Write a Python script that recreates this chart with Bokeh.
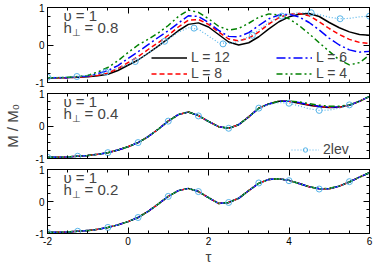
from bokeh.plotting import figure
from bokeh.layouts import column
from bokeh.models import (Range1d, SingleIntervalTicker, LinearAxis, Label,
                          Legend, LegendItem, CustomLabelingPolicy)
from bokeh.embed import file_html
from bokeh.resources import INLINE

# ---------------- data ----------------
tau = [-2.0, -1.75, -1.5, -1.25, -1.0, -0.75, -0.5, -0.25, 0.0, 0.25, 0.5,
       0.75, 1.0, 1.25, 1.5, 1.75, 2.0, 2.25, 2.5, 2.75, 3.0, 3.25, 3.5,
       3.75, 4.0, 4.25, 4.5, 4.75, 5.0, 5.25, 5.5, 5.75, 6.0]

# panel h_perp = 0.8
h08_L12 = [-0.87, -0.87, -0.87, -0.86, -0.85, -0.82, -0.78, -0.68, -0.54, -0.40, -0.22,
           -0.03, 0.17, 0.38, 0.55, 0.59, 0.48, 0.28, 0.08, 0.00, 0.06, 0.22, 0.43,
           0.62, 0.75, 0.82, 0.84, 0.76, 0.60, 0.46, 0.35, 0.28, 0.26]
h08_L8 = [-0.87, -0.87, -0.87, -0.86, -0.84, -0.81, -0.75, -0.63, -0.47, -0.31, -0.12,
          0.06, 0.26, 0.48, 0.66, 0.68, 0.55, 0.35, 0.16, 0.11, 0.18, 0.35, 0.56,
          0.73, 0.82, 0.84, 0.78, 0.62, 0.44, 0.28, 0.15, 0.07, 0.04]
h08_L6 = [-0.87, -0.87, -0.87, -0.85, -0.83, -0.76, -0.68, -0.55, -0.36, -0.18, 0.01,
          0.20, 0.38, 0.58, 0.78, 0.76, 0.60, 0.39, 0.23, 0.22, 0.33, 0.52, 0.70,
          0.80, 0.82, 0.75, 0.60, 0.40, 0.18, 0.00, -0.13, -0.19, -0.17]
h08_L4 = [-0.87, -0.87, -0.86, -0.84, -0.81, -0.72, -0.60, -0.42, -0.20, 0.00, 0.15,
          0.32, 0.52, 0.76, 0.93, 0.87, 0.70, 0.50, 0.40, 0.44, 0.58, 0.74, 0.83,
          0.80, 0.70, 0.52, 0.30, 0.06, -0.17, -0.40, -0.53, -0.47, -0.27]
h08_2lev = [-0.86, -0.86, -0.85, -0.84, -0.81, -0.77, -0.71, -0.62, -0.52, -0.40, -0.22,
            -0.03, 0.16, 0.34, 0.46, 0.42, 0.24, 0.06, 0.04, 0.10, 0.22, 0.40, 0.60,
            0.75, 0.83, 0.86, 0.86, 0.81, 0.74, 0.70, 0.71, 0.75, 0.77]
h08_mk_tau = [-2.0, -1.27, -0.55, 0.18, 0.91, 1.64, 2.36, 3.09, 3.82, 4.55, 5.27, 6.0]
h08_mk_val = [-0.86, -0.84, -0.72, -0.44, 0.10, 0.45, 0.03, 0.26, 0.77, 0.86, 0.70, 0.77]

# panel h_perp = 0.4
h04_L12 = [-0.96, -0.96, -0.95, -0.93, -0.91, -0.87, -0.82, -0.74, -0.64, -0.51, -0.33,
           -0.10, 0.15, 0.35, 0.43, 0.32, 0.14, -0.02, -0.07, 0.04, 0.28, 0.55, 0.68,
           0.76, 0.76, 0.70, 0.64, 0.59, 0.57, 0.58, 0.64, 0.76, 0.91]
h04_L8 = [-0.96, -0.96, -0.95, -0.93, -0.91, -0.87, -0.82, -0.74, -0.64, -0.51, -0.33,
          -0.10, 0.15, 0.35, 0.43, 0.32, 0.14, -0.02, -0.07, 0.04, 0.28, 0.55, 0.68,
          0.76, 0.76, 0.71, 0.65, 0.60, 0.58, 0.58, 0.64, 0.76, 0.91]
h04_L6 = [-0.96, -0.96, -0.95, -0.93, -0.91, -0.87, -0.82, -0.74, -0.64, -0.51, -0.33,
          -0.10, 0.15, 0.35, 0.43, 0.32, 0.14, -0.02, -0.07, 0.04, 0.28, 0.55, 0.68,
          0.76, 0.76, 0.72, 0.66, 0.61, 0.58, 0.59, 0.64, 0.76, 0.91]
h04_L4 = [-0.96, -0.96, -0.95, -0.93, -0.91, -0.87, -0.82, -0.74, -0.64, -0.51, -0.33,
          -0.10, 0.15, 0.35, 0.43, 0.32, 0.14, -0.02, -0.07, 0.04, 0.28, 0.55, 0.68,
          0.76, 0.77, 0.74, 0.69, 0.64, 0.61, 0.61, 0.65, 0.76, 0.91]
h04_2lev = [-0.96, -0.96, -0.95, -0.93, -0.91, -0.87, -0.82, -0.74, -0.64, -0.51, -0.33,
            -0.10, 0.15, 0.35, 0.43, 0.32, 0.14, -0.02, -0.07, 0.04, 0.28, 0.55, 0.66,
            0.72, 0.70, 0.62, 0.53, 0.48, 0.49, 0.55, 0.65, 0.77, 0.91]
h04_mk_tau = [-2.0, -1.25, -0.5, 0.25, 1.0, 1.75, 2.5, 3.25, 4.0, 4.75, 5.5]
h04_mk_val = [-0.96, -0.93, -0.82, -0.51, 0.15, 0.31, -0.07, 0.55, 0.70, 0.48, 0.65]

# panel h_perp = 0.2
h02_L12 = [-0.97, -0.96, -0.95, -0.93, -0.91, -0.87, -0.81, -0.73, -0.63, -0.50, -0.31,
           -0.08, 0.16, 0.34, 0.41, 0.31, 0.12, -0.06, -0.03, 0.10, 0.34, 0.57, 0.69,
           0.71, 0.66, 0.56, 0.46, 0.40, 0.40, 0.48, 0.61, 0.76, 0.90]
h02_L8 = list(h02_L12)
h02_L6 = list(h02_L12)
h02_L4 = [-0.97, -0.96, -0.95, -0.93, -0.91, -0.87, -0.81, -0.73, -0.63, -0.50, -0.31,
          -0.08, 0.16, 0.34, 0.41, 0.31, 0.12, -0.06, -0.03, 0.10, 0.34, 0.57, 0.69,
          0.71, 0.66, 0.56, 0.46, 0.40, 0.41, 0.48, 0.61, 0.76, 0.90]
h02_2lev = list(h02_L12)
h02_mk_tau = [-2.0, -1.25, -0.5, 0.25, 1.0, 1.75, 2.5, 3.25, 4.0, 4.75, 5.5]
h02_mk_val = [-0.97, -0.93, -0.81, -0.50, 0.16, 0.31, -0.03, 0.58, 0.65, 0.39, 0.62]

series_names = ["L = 12", "L = 8", "L = 6", "L = 4"]
panel_titles = ["0.8", "0.4", "0.2"]
x_tick_labels = {-2: "-2", 0: "0", 2: "2", 4: "4", 6: "6"}
y_tick_labels = {-1: "-1", 0: "0", 1: "1"}

# ---------------- styles ----------------
FONT = "Liberation Sans"
colors = ["#000000", "#ff0000", "#0000ff", "#008000"]
dashes = ["solid", "5 3", "9 3 2 3", "6 3 2 3 2 3"]
LEV_COLOR = "#56b4e9"
W = 380

NO_LABELS = """
const all = Array.from(indices);
for (const i of all) { indices.unset(i); }
return indices;
"""


def make_axis(kind, show_labels, overrides):
    if kind == "x":
        t = SingleIntervalTicker(interval=2, num_minor_ticks=4)
    else:
        t = SingleIntervalTicker(interval=1, num_minor_ticks=4)
    ax = LinearAxis(ticker=t)
    ax.axis_line_color = "black"
    ax.major_tick_in = 6
    ax.major_tick_out = 0
    ax.minor_tick_in = 3
    ax.minor_tick_out = 0
    ax.major_tick_line_color = "black"
    ax.minor_tick_line_color = "black"
    if show_labels:
        ax.major_label_overrides = overrides
        ax.major_label_text_font = FONT
        ax.major_label_text_font_size = "10px"
        ax.major_label_text_color = "black"
        ax.major_label_standoff = 3
    else:
        ax.major_label_text_font_size = "0px"
        ax.major_label_standoff = 0
        ax.major_label_policy = CustomLabelingPolicy(code=NO_LABELS)
    return ax


def make_panel(height, top, bottom, show_x_labels):
    p = figure(width=W, height=height,
               x_range=Range1d(-2, 6), y_range=Range1d(-1, 1),
               x_axis_location=None, y_axis_location=None,
               output_backend="svg", toolbar_location=None,
               min_border_left=46, min_border_right=11,
               min_border_top=top, min_border_bottom=bottom)
    p.xgrid.visible = False
    p.ygrid.visible = False
    p.outline_line_color = "black"
    p.background_fill_color = "white"
    p.border_fill_color = "white"
    bx = make_axis("x", show_x_labels, x_tick_labels)
    ly = make_axis("y", True, y_tick_labels)
    p.add_layout(bx, "below")
    p.add_layout(ly, "left")
    p.add_layout(make_axis("x", False, None), "above")
    p.add_layout(make_axis("y", False, None), "right")
    return p, bx, ly


def add_texts(p, hval):
    p.add_layout(Label(x=-2, y=1, x_offset=16, y_offset=-8, text="υ = 1",
                       text_font=FONT, text_font_size="15px", text_baseline="middle"))
    p.add_layout(Label(x=-2, y=1, x_offset=16, y_offset=-20, text="h",
                       text_font=FONT, text_font_size="15px", text_baseline="middle"))
    p.add_layout(Label(x=-2, y=1, x_offset=24.5, y_offset=-25, text="⊥",
                       text_font=FONT, text_font_size="10px", text_baseline="middle"))
    p.add_layout(Label(x=-2, y=1, x_offset=37, y_offset=-20, text="= " + hval,
                       text_font=FONT, text_font_size="15px", text_baseline="middle"))


def draw_curves(p, curves, lev, mk_t, mk_v):
    rends = []
    for c, col, d in zip(curves, colors, dashes):
        r = p.line(tau, c, line_color=col, line_width=1.5, line_dash=d)
        rends.append(r)
    rl = p.line(tau, lev, line_color=LEV_COLOR, line_width=1.2, line_dash="1 2")
    rm = p.scatter(mk_t, mk_v, marker="circle", size=6, fill_color=None,
                   line_color=LEV_COLOR, line_width=1)
    return rends, rl, rm


# canvas heights: top border + frame + bottom border
p1, bx1, ly1 = make_panel(7 + 75 + 6, 7, 6, False)
p2, bx2, ly2 = make_panel(5 + 65 + 6, 5, 6, False)
p3, bx3, ly3 = make_panel(5 + 68 + 30, 5, 30, True)

r1, l1, m1 = draw_curves(p1, [h08_L12, h08_L8, h08_L6, h08_L4], h08_2lev, h08_mk_tau, h08_mk_val)
r2, l2, m2 = draw_curves(p2, [h04_L12, h04_L8, h04_L6, h04_L4], h04_2lev, h04_mk_tau, h04_mk_val)
r3, l3, m3 = draw_curves(p3, [h02_L12, h02_L8, h02_L6, h02_L4], h02_2lev, h02_mk_tau, h02_mk_val)

for p, hv in zip([p1, p2, p3], panel_titles):
    add_texts(p, hv)


def make_legend(item, loc, gw):
    return Legend(items=[item], location=loc, orientation="vertical",
                  label_text_font=FONT, label_text_font_size="14px",
                  label_height=11, glyph_height=11, glyph_width=gw,
                  spacing=0, padding=0, margin=0, label_standoff=4,
                  border_line_color=None, background_fill_alpha=0)


legend_spots = [(104, 17), (104, 1), (229, 17), (229, 1)]
for name, rr, spot in zip(series_names, r1, legend_spots):
    p1.add_layout(make_legend(LegendItem(label=name, renderers=[rr]), spot, 36))
p2.add_layout(make_legend(LegendItem(label="2lev", renderers=[l2, m2]), (244, 1), 28))

bx3.axis_label = "τ"
bx3.axis_label_text_font = FONT
bx3.axis_label_text_font_size = "15px"
bx3.axis_label_text_font_style = "normal"
bx3.axis_label_standoff = 0

ly2.axis_label = "M / M₀"
ly2.axis_label_text_font = FONT
ly2.axis_label_text_font_size = "15px"
ly2.axis_label_text_font_style = "normal"
ly2.axis_label_standoff = 12

layout = column(p1, p2, p3, spacing=0)
open("out.html", "w").write(file_html(layout, INLINE))
